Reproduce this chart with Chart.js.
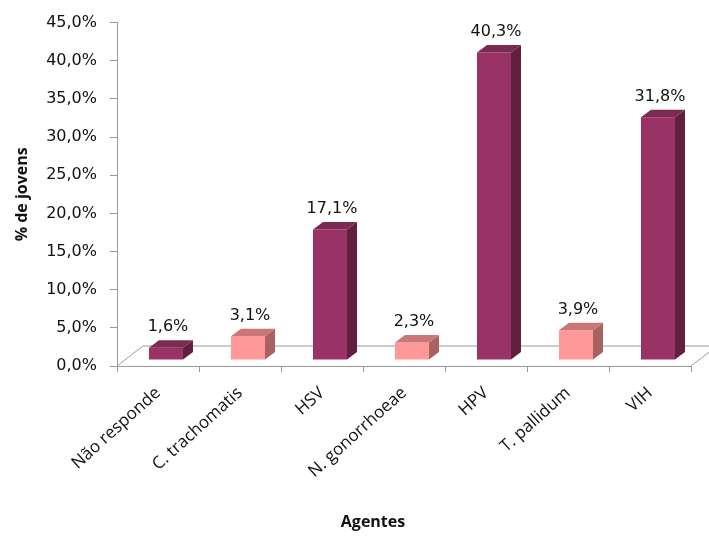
<!DOCTYPE html>
<html lang="pt">
<head>
    <meta charset="UTF-8">
    <title>Agentes</title>
    <script src="https://cdn.jsdelivr.net/npm/chart.js"></script>
    <style>
        html, body { margin: 0; padding: 0; background: #fff; }
    </style>
</head>
<body>
    <canvas id="grafico" width="709" height="537"></canvas>

    <script>
        // dados do gráfico
        const agentes = ["Não responde", "C. trachomatis", "HSV", "N. gonorrhoeae", "HPV", "T. pallidum", "VIH"];
        const percentagens = [1.6, 3.1, 17.1, 2.3, 40.3, 3.9, 31.8];
        const tipoCor = ["roxo", "rosa", "roxo", "rosa", "roxo", "rosa", "roxo"];

        const paleta = {
            roxo: { frente: "#993366", lado: "#62203f", topo: "#7b2a52" },
            rosa: { frente: "#ff9999", lado: "#a86262", topo: "#c87676" }
        };

        // deslocamento do efeito 3D
        const prof = { dx: 10, dy: 7.5 };      // profundidade da barra
        const chao = { dx: 26, dy: 20 };       // profundidade do chão
        const recuo = { dx: 8, dy: 6 };        // barras ficam um pouco atrás da frente

        const cinza = "#9a9a9a";
        const corTexto = "#111";

        function fmt(v) {
            return v.toFixed(1).replace(".", ",") + "%";
        }

        const efeito3D = {
            id: "efeito3D",
            beforeDatasetsDraw(chart) {
                const { ctx, chartArea: a } = chart;
                ctx.save();
                ctx.strokeStyle = cinza;
                ctx.lineWidth = 1;
                ctx.beginPath();
                ctx.moveTo(a.left, a.bottom);
                ctx.lineTo(a.left + chao.dx, a.bottom - chao.dy);
                ctx.lineTo(a.right + chao.dx, a.bottom - chao.dy);
                ctx.moveTo(a.right, a.bottom);
                ctx.lineTo(a.right + chao.dx, a.bottom - chao.dy);
                ctx.stroke();
                ctx.restore();

                ctx.save();
                ctx.translate(recuo.dx, -recuo.dy);
            },
            afterDatasetsDraw(chart) {
                const { ctx } = chart;
                const meta = chart.getDatasetMeta(0);
                meta.data.forEach((bar, i) => {
                    const c = paleta[tipoCor[i]];
                    const esq = bar.x - bar.width / 2;
                    const dir = bar.x + bar.width / 2;
                    const topo = bar.y;
                    const base = bar.base;

                    ctx.fillStyle = c.lado;
                    ctx.beginPath();
                    ctx.moveTo(dir, topo);
                    ctx.lineTo(dir + prof.dx, topo - prof.dy);
                    ctx.lineTo(dir + prof.dx, base - prof.dy);
                    ctx.lineTo(dir, base);
                    ctx.closePath();
                    ctx.fill();

                    ctx.fillStyle = c.topo;
                    ctx.beginPath();
                    ctx.moveTo(esq, topo);
                    ctx.lineTo(esq + prof.dx, topo - prof.dy);
                    ctx.lineTo(dir + prof.dx, topo - prof.dy);
                    ctx.lineTo(dir, topo);
                    ctx.closePath();
                    ctx.fill();

                    ctx.fillStyle = corTexto;
                    ctx.font = "16px 'DejaVu Sans'";
                    ctx.textAlign = "center";
                    ctx.textBaseline = "bottom";
                    ctx.fillText(fmt(percentagens[i]), bar.x + 2, topo - prof.dy - 5);
                });
                ctx.restore();
            },
            afterDraw(chart) {
                const { ctx } = chart;
                ctx.save();
                ctx.fillStyle = corTexto;
                ctx.font = "bold 16px 'Open Sans'";
                ctx.textAlign = "center";
                ctx.textBaseline = "middle";
                ctx.fillText("Agentes", 373, 522);
                ctx.restore();
            }
        };

        new Chart(document.getElementById("grafico"), {
            type: "bar",
            data: {
                labels: agentes,
                datasets: [{
                    label: "% de jovens",
                    data: percentagens,
                    backgroundColor: tipoCor.map(t => paleta[t].frente),
                    borderWidth: 0,
                    categoryPercentage: 1,
                    barPercentage: 0.415
                }]
            },
            options: {
                responsive: false,
                animation: false,
                layout: { padding: { top: 19, right: 18, left: 0, bottom: 0 } },
                plugins: {
                    legend: { display: false },
                    tooltip: { enabled: false }
                },
                scales: {
                    x: {
                        grid: { drawOnChartArea: false, offset: true, tickLength: 6, color: cinza },
                        border: { color: cinza },
                        ticks: {
                            minRotation: 42,
                            maxRotation: 42,
                            padding: 11,
                            color: corTexto,
                            font: { family: "'Open Sans'", size: 17 }
                        },
                        afterFit: s => { s.height = 171; }
                    },
                    y: {
                        min: 0,
                        max: 45,
                        grid: { drawOnChartArea: false, tickLength: 7, color: cinza },
                        border: { color: cinza },
                        ticks: {
                            stepSize: 5,
                            padding: 13,
                            color: corTexto,
                            font: { family: "'DejaVu Sans'", size: 16 },
                            callback: v => fmt(v)
                        },
                        title: {
                            display: true,
                            text: "% de jovens",
                            color: corTexto,
                            font: { family: "'Open Sans'", size: 16, weight: "bold" },
                            padding: { top: 13, bottom: 0 }
                        },
                        afterFit: s => { s.width = 117; }
                    }
                }
            },
            plugins: [efeito3D]
        });
    </script>
</body>
</html>
